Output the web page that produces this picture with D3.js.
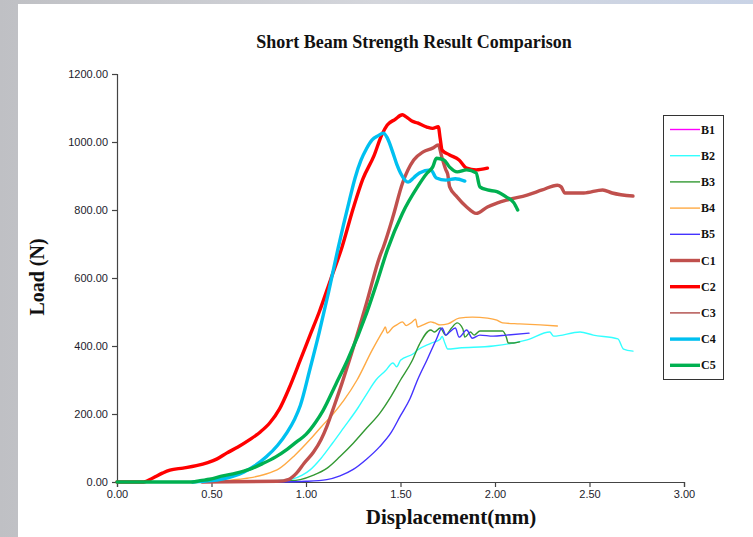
<!DOCTYPE html>
<html><head><meta charset="utf-8">
<script src="https://cdn.jsdelivr.net/npm/d3@7/dist/d3.min.js"></script>
<style>html,body{margin:0;padding:0;background:#fff;}svg{display:block;}</style>
</head><body>
<svg id="chart" width="753" height="537"></svg>
<script>
// ---------- data (displacement mm, load N) ----------
const seriesNames = ["B1","B2","B3","B4","B5","C1","C2","C3","C4","C5"];
const xTicks = [0,0.5,1,1.5,2,2.5,3];
const yTicks = [0,200,400,600,800,1000,1200];

const B1 = [];
const B2 = [[0.70,0],[0.80,3],[0.88,5],[0.93,9],[0.98,20],[1.02,35],[1.08,70],[1.14,114],[1.20,160],[1.27,214],[1.32,258],[1.37,300],[1.42,327],[1.46,350],[1.48,339],[1.50,358],[1.57,378],[1.59,388],[1.66,408],[1.71,420],[1.72,428],[1.735,408],[1.75,391],[1.81,394],[1.99,400],[2.17,418],[2.29,441],[2.31,429],[2.45,441],[2.52,432],[2.65,421],[2.68,391],[2.73,385]];
const B3 = [[0.75,0],[0.90,3],[0.97,7],[1.04,20],[1.11,40],[1.18,75],[1.25,114],[1.32,158],[1.39,202],[1.45,252],[1.50,300],[1.56,355],[1.60,405],[1.66,447],[1.68,441],[1.71,453],[1.74,432],[1.77,453],[1.80,468],[1.83,450],[1.84,426],[1.87,441],[1.89,432],[1.92,444],[2.04,444],[2.06,426],[2.07,409],[2.10,409],[2.13,412]];
const B4 = [[0.50,0],[0.61,6],[0.70,12],[0.78,22],[0.86,40],[0.94,78],[1.02,124],[1.08,162],[1.14,198],[1.20,240],[1.27,300],[1.35,388],[1.41,447],[1.42,456],[1.43,438],[1.46,455],[1.48,462],[1.51,471],[1.53,460],[1.56,470],[1.58,479],[1.59,456],[1.62,462],[1.66,471],[1.68,468],[1.71,462],[1.75,465],[1.81,482],[1.88,485],[1.96,482],[2.01,476],[2.04,468],[2.13,465],[2.24,462],[2.33,459]];
const B5 = [[0.85,0],[1.00,2],[1.11,7],[1.18,18],[1.25,37],[1.32,67],[1.39,104],[1.45,145],[1.50,195],[1.55,245],[1.59,300],[1.64,359],[1.69,420],[1.72,453],[1.74,432],[1.76,441],[1.79,453],[1.81,426],[1.85,447],[1.88,423],[1.92,432],[1.99,429],[2.06,432],[2.18,438]];
const C1 = [[0.45,0],[0.85,2],[0.91,8],[0.95,26],[0.99,55],[1.04,88],[1.08,125],[1.11,163],[1.15,225],[1.19,290],[1.23,359],[1.32,526],[1.39,663],[1.41,692],[1.46,780],[1.51,878],[1.57,947],[1.62,971],[1.67,982],[1.70,991],[1.72,953],[1.74,918],[1.75,905],[1.76,868],[1.80,838],[1.85,809],[1.90,790],[1.96,809],[2.01,820],[2.06,829],[2.17,844],[2.25,859],[2.33,873],[2.35,868],[2.37,850],[2.47,850],[2.57,859],[2.62,850],[2.73,841]];
const C2 = [[0,0],[0.14,0],[0.19,12],[0.24,26],[0.28,35],[0.35,41],[0.42,48],[0.48,57],[0.53,68],[0.58,85],[0.64,103],[0.70,124],[0.76,148],[0.81,175],[0.86,215],[0.91,275],[0.97,359],[1.02,430],[1.07,500],[1.13,595],[1.19,690],[1.25,805],[1.30,890],[1.36,960],[1.40,1020],[1.43,1050],[1.47,1066],[1.51,1080],[1.53,1074],[1.56,1062],[1.59,1056],[1.64,1044],[1.67,1040],[1.70,1045],[1.71,1010],[1.72,976],[1.76,962],[1.81,947],[1.85,923],[1.90,918],[1.96,923]];
const C3 = [];
const C4 = [[0.40,0],[0.50,4],[0.55,8],[0.62,18],[0.67,29],[0.73,48],[0.79,74],[0.85,108],[0.90,146],[0.94,185],[0.97,225],[1.02,330],[1.07,440],[1.12,560],[1.17,688],[1.23,829],[1.26,895],[1.29,945],[1.32,980],[1.35,1006],[1.38,1018],[1.41,1026],[1.43,1012],[1.46,968],[1.48,935],[1.50,909],[1.54,882],[1.57,895],[1.60,909],[1.66,918],[1.69,894],[1.74,888],[1.79,892],[1.84,885]];
const C5 = [[0,0],[0.40,0],[0.44,4],[0.49,8],[0.56,18],[0.63,26],[0.70,37],[0.77,54],[0.84,74],[0.90,96],[0.95,118],[1.00,140],[1.05,175],[1.09,210],[1.16,290],[1.22,359],[1.32,496],[1.38,595],[1.43,682],[1.51,790],[1.59,868],[1.64,908],[1.67,926],[1.69,952],[1.73,947],[1.76,926],[1.80,912],[1.85,918],[1.90,909],[1.92,868],[1.96,859],[2.01,854],[2.06,838],[2.10,821],[2.12,800]];

const seriesData = [B1,B2,B3,B4,B5,C1,C2,C3,C4,C5];
const seriesColors = ["#ff00ff","#33ffff","#339933","#ffaa44","#4433ff","#c0504d","#ff0000","#b04a48","#00c0f0","#00b050"];
const seriesWidths = [1.4,1.4,1.4,1.4,1.4,3.4,3.4,1.4,3.4,3.4];

// ---------- layout ----------
const svg = d3.select("#chart");
const W = 753, H = 537;

const defs = svg.append("defs");
const g1 = defs.append("linearGradient").attr("id","bg").attr("x1","0").attr("x2","1").attr("y1","0").attr("y2","0");
g1.append("stop").attr("offset","0").attr("stop-color","#bfc0c4");
g1.append("stop").attr("offset","0.5").attr("stop-color","#d4d6dc");
g1.append("stop").attr("offset","1").attr("stop-color","#c9d3e6");
svg.append("rect").attr("width",W).attr("height",H).attr("fill","url(#bg)");
svg.append("rect").attr("x",18).attr("y",4).attr("width",W-18).attr("height",H-4).attr("fill","#fff");

const x = d3.scaleLinear().domain([0,3]).range([117,684]);
const y = d3.scaleLinear().domain([0,1200]).range([482,74]);

// title
svg.append("text").attr("x",414).attr("y",48).attr("text-anchor","middle")
  .attr("font-family","'Liberation Serif','Times New Roman',serif").attr("font-weight","bold")
  .attr("font-size",18).attr("fill","#111").text("Short Beam Strength Result Comparison");

// axes
const yAxis = svg.append("g").attr("transform","translate(117,0)")
  .call(d3.axisLeft(y).tickValues(yTicks).tickFormat(d3.format(".2f")).tickSize(5).tickPadding(4));
const xAxis = svg.append("g").attr("transform","translate(0,482)")
  .call(d3.axisBottom(x).tickValues(xTicks).tickFormat(d3.format(".2f")).tickSize(5).tickPadding(3));
[yAxis,xAxis].forEach(a=>{
  a.selectAll("path.domain").attr("stroke","#444").attr("stroke-width",1.2);
  a.selectAll(".tick line").attr("stroke","#444").attr("stroke-width",1.2);
  a.selectAll(".tick text").attr("font-family","'Liberation Sans',Arial,sans-serif")
    .attr("font-size",11).attr("fill","#1c1c2c");
});

// axis titles
svg.append("text").attr("transform","translate(44,277) rotate(-90)").attr("text-anchor","middle")
  .attr("font-family","'Liberation Serif','Times New Roman',serif").attr("font-weight","bold")
  .attr("font-size",20).attr("fill","#111").text("Load (N)");
svg.append("text").attr("x",451).attr("y",524).attr("text-anchor","middle")
  .attr("font-family","'Liberation Serif','Times New Roman',serif").attr("font-weight","bold")
  .attr("font-size",21).attr("fill","#111").text("Displacement(mm)");

// lines
const line = d3.line().x(d=>x(d[0])).y(d=>y(d[1])).curve(d3.curveMonotoneX);
const plot = svg.append("g");
seriesData.forEach((data,i)=>{
  if(!data.length) return;
  plot.append("path").datum(data).attr("d",line).attr("fill","none")
    .attr("stroke",seriesColors[i]).attr("stroke-width",seriesWidths[i])
    .attr("stroke-linejoin","round").attr("stroke-linecap","round");
});

// legend
const leg = svg.append("g");
leg.append("rect").attr("x",663.5).attr("y",115.5).attr("width",60).attr("height",264)
  .attr("fill","#fff").attr("stroke","#333").attr("stroke-width",1);
seriesNames.forEach((n,i)=>{
  const yy = 129.5 + i*26.2;
  leg.append("line").attr("x1",670).attr("x2",700).attr("y1",yy).attr("y2",yy)
    .attr("stroke",seriesColors[i]).attr("stroke-width",seriesWidths[i]);
  leg.append("text").attr("x",701).attr("y",yy+4).attr("font-family","'Liberation Serif','Times New Roman',serif")
    .attr("font-weight","bold").attr("font-size",12).attr("fill","#111").text(n);
});
</script>
</body></html>
